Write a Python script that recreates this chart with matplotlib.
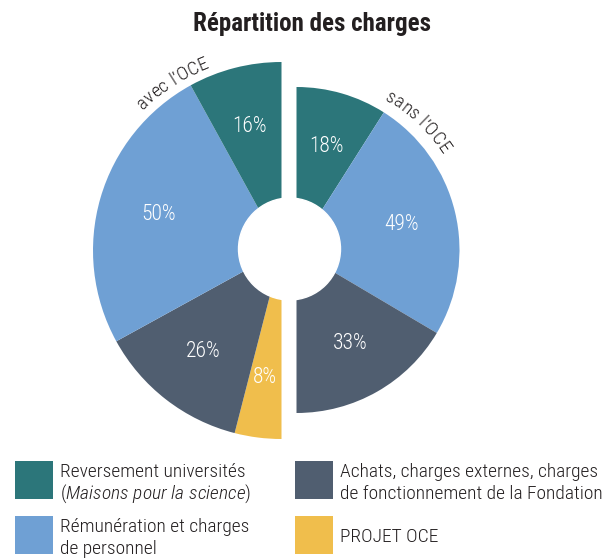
import numpy as np
import matplotlib
matplotlib.use("Agg")
import matplotlib.pyplot as plt
from matplotlib.patches import Circle, Rectangle
from matplotlib.font_manager import FontProperties

FONT = ['Roboto Condensed', 'DejaVu Sans']
plt.rcParams['font.family'] = FONT
plt.rcParams['mathtext.fontset'] = 'custom'
plt.rcParams['mathtext.it'] = 'Roboto Condensed:italic:light'
plt.rcParams['mathtext.rm'] = 'Roboto Condensed:light'

# data
title = "Répartition des charges"
avec_labels = ["PROJET OCE", "Achats", "Rémunération", "Reversement"]
avec_values = [8, 26, 50, 16]          # avec l'OCE, from bottom clockwise
sans_labels = ["Reversement", "Rémunération", "Achats"]
sans_values = [18, 49, 33]             # sans l'OCE, from top clockwise

c_teal = "#2c767a"
c_blue = "#6fa0d4"
c_dark = "#505e70"
c_yell = "#f0be4c"
txt = "#231f20"

avec_colors = [c_yell, c_dark, c_blue, c_teal]
sans_colors = [c_teal, c_blue, c_dark]

legend_items = [
    (c_teal, ["Reversement universités", r"($\mathit{Maisons\ pour\ la\ science}$)"]),
    (c_blue, ["Rémunération et charges", "de personnel"]),
    (c_dark, ["Achats, charges externes, charges", "de fonctionnement de la Fondation"]),
    (c_yell, ["PROJET OCE"]),
]

W, H = 604, 560
fig = plt.figure(figsize=(W / 100, H / 100), dpi=100)
ax = fig.add_axes([0, 0, 1, 1])

def Y(y):  # image pixel row -> data y
    return H - y

# left half (bigger), right half (smaller)
cl = (281.5, Y(250.5))
cr = (296.5, Y(250))
wl, tl, al = ax.pie(np.array(avec_values) / 200, normalize=False, colors=avec_colors,
                    startangle=270, counterclock=False, center=cl, radius=188.5,
                    autopct='%d', pctdistance=0.68, wedgeprops=dict(linewidth=0))
wr, tr, ar = ax.pie(np.array(sans_values) / 200, normalize=False, colors=sans_colors,
                    startangle=90, counterclock=False, center=cr, radius=163,
                    autopct='%d', pctdistance=0.66, wedgeprops=dict(linewidth=0))
for t, v in list(zip(al, avec_values)) + list(zip(ar, sans_values)):
    t.set_text(f"{v}%")
    t.set_color("white")
    t.set_fontsize(15.5)
    t.set_fontweight(300)

ax.add_patch(Circle((289.5, Y(249)), 51, color="white", zorder=5))

ax.set_xlim(0, W)
ax.set_ylim(0, H)
ax.set_aspect('auto')
ax.axis('off')

renderer = fig.canvas.get_renderer()

def tw(s, prop):
    return renderer.get_text_width_height_descent(s, prop, ismath=False)[0]

def arc_text(s, cx, cy, r, mid, size):
    prop = FontProperties(family=FONT, size=size, weight=300)
    base = tw("x", prop)
    pos = [tw(s[:i] + "x", prop) - base for i in range(len(s) + 1)]
    total = pos[-1]
    start = mid + np.degrees(total / 2 / r)
    for i, ch in enumerate(s):
        c = (pos[i] + pos[i + 1]) / 2
        th = start - np.degrees(c / r)
        x = cx + r * np.cos(np.radians(th))
        y = cy + r * np.sin(np.radians(th))
        ax.text(x, y, ch, rotation=th - 90, rotation_mode='anchor', ha='center',
                va='baseline', fontsize=size, fontweight=300, color=txt)

arc_text("avec l’OCE", cl[0], cl[1], 197, 123, 14)
arc_text("sans l’OCE", cr[0], cr[1], 174, 46.5, 14)

ax.text(312, Y(31), title, ha='center', va='baseline', fontsize=18,
        fontweight='bold', color=txt)

# legend
pos = [(15, 461), (15, 516), (295, 461), (295, 516)]
for (x, y), (col, lines) in zip(pos, legend_items):
    ax.add_patch(Rectangle((x, Y(y + 38)), 38, 38, color=col, linewidth=0))
    if len(lines) == 2:
        ax.text(x + 45, Y(y + 16), lines[0], fontsize=14, fontweight=300, color=txt, va='baseline')
        ax.text(x + 45, Y(y + 38), lines[1], fontsize=14, fontweight=300, color=txt, va='baseline')
    else:
        ax.text(x + 45, Y(y + 26), lines[0], fontsize=14, fontweight=300, color=txt, va='baseline')

fig.savefig("out.png", dpi=100)
